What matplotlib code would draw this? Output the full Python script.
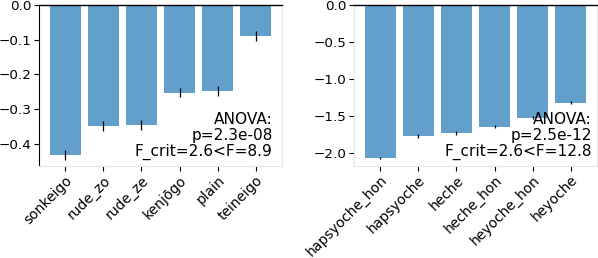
import numpy as np
import matplotlib
matplotlib.use("Agg")
import matplotlib.pyplot as plt

# left panel: Japanese politeness forms
jp_labels = ["sonkeigo", "rude_zo", "rude_ze", "kenjōgo", "plain", "teineigo"]
jp_means = [-0.432, -0.349, -0.346, -0.253, -0.248, -0.089]
jp_err = [0.014, 0.015, 0.014, 0.013, 0.014, 0.014]
jp_text = "ANOVA:\np=2.3e-08\nF_crit=2.6<F=8.9"

# right panel: Korean speech levels
ko_labels = ["hapsyoche_hon", "hapsyoche", "heche", "heche_hon", "heyoche_hon", "heyoche"]
ko_means = [-2.069, -1.771, -1.730, -1.649, -1.527, -1.324]
ko_err = [0.02, 0.022, 0.022, 0.02, 0.02, 0.02]
ko_text = "ANOVA:\np=2.5e-12\nF_crit=2.6<F=12.8"

fig = plt.figure(figsize=(5.98, 2.58), dpi=100)
ax1 = fig.add_axes([39/598, 92/258, 243/598, 161/258])
ax2 = fig.add_axes([354/598, 92/258, 243/598, 161/258])

light = "#e6e6e6"

def draw(ax, labels, means, err, txt, ylo, tx):
    x = np.arange(len(labels))
    ax.bar(x, means, width=0.8, color="tab:blue", alpha=0.7, zorder=2)
    ax.errorbar(x, means, yerr=err, fmt="none", ecolor="black", elinewidth=0.9, zorder=3)
    ax.set_ylim(ylo, 0)
    ax.set_xticks(x)
    ax.set_xticklabels(labels, rotation=45, ha="right", rotation_mode="anchor")
    ax.tick_params(axis="x", labelsize=10, length=3.5, width=0.8, pad=1.5)
    ax.tick_params(axis="y", labelsize=9.7, length=3.5, width=0.8, pad=2)
    for s in ["left", "right", "bottom"]:
        ax.spines[s].set_color(light)
    ax.spines["top"].set_color("black")
    ax.spines["top"].set_linewidth(1.0)
    ax.text(tx, 0.035, txt, transform=ax.transAxes, ha="right", va="bottom",
            fontsize=11.1, linespacing=1.1)

draw(ax1, jp_labels, jp_means, jp_err, jp_text, -0.464, 0.962)
draw(ax2, ko_labels, ko_means, ko_err, ko_text, -2.177, 0.978)
ax1.spines["left"].set_color("black")
ax1.set_yticks([0.0, -0.1, -0.2, -0.3, -0.4])
ax2.set_yticks([0.0, -0.5, -1.0, -1.5, -2.0])

fig.savefig("out.png", dpi=100)
